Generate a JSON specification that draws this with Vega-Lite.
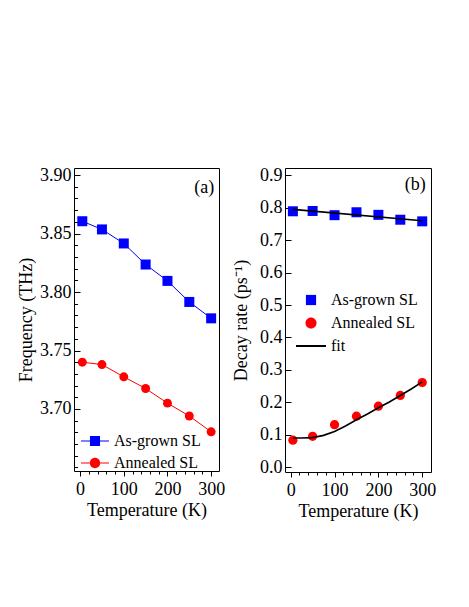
{
  "$schema": "https://vega.github.io/schema/vega-lite/v6.json",
  "background": "white",
  "padding": {"left": 17, "top": 165, "right": 0, "bottom": 0},
  "spacing": 6,
  "resolve": {
    "scale": {"color": "independent", "shape": "independent"},
    "legend": {"color": "independent", "shape": "independent"}
  },
  "datasets": {
    "freq": [
      {"series": "As-grown SL", "T": 5, "f": 3.8605},
      {"series": "As-grown SL", "T": 50, "f": 3.8535},
      {"series": "As-grown SL", "T": 100, "f": 3.8415},
      {"series": "As-grown SL", "T": 150, "f": 3.8235},
      {"series": "As-grown SL", "T": 200, "f": 3.8095},
      {"series": "As-grown SL", "T": 250, "f": 3.7915},
      {"series": "As-grown SL", "T": 300, "f": 3.7775},
      {"series": "Annealed SL", "T": 5, "f": 3.740},
      {"series": "Annealed SL", "T": 50, "f": 3.738},
      {"series": "Annealed SL", "T": 100, "f": 3.7275},
      {"series": "Annealed SL", "T": 150, "f": 3.7175},
      {"series": "Annealed SL", "T": 200, "f": 3.705},
      {"series": "Annealed SL", "T": 250, "f": 3.694},
      {"series": "Annealed SL", "T": 300, "f": 3.6805}
    ],
    "decay": [
      {"series": "As-grown SL", "T": 5, "rate": 0.789},
      {"series": "As-grown SL", "T": 50, "rate": 0.790},
      {"series": "As-grown SL", "T": 100, "rate": 0.777},
      {"series": "As-grown SL", "T": 150, "rate": 0.786},
      {"series": "As-grown SL", "T": 200, "rate": 0.778},
      {"series": "As-grown SL", "T": 250, "rate": 0.763},
      {"series": "As-grown SL", "T": 300, "rate": 0.758},
      {"series": "Annealed SL", "T": 5, "rate": 0.083},
      {"series": "Annealed SL", "T": 50, "rate": 0.095},
      {"series": "Annealed SL", "T": 100, "rate": 0.131},
      {"series": "Annealed SL", "T": 150, "rate": 0.157},
      {"series": "Annealed SL", "T": 200, "rate": 0.188},
      {"series": "Annealed SL", "T": 250, "rate": 0.221},
      {"series": "Annealed SL", "T": 300, "rate": 0.261}
    ],
    "fit": [
      {"group": "As-grown", "T": 5, "rate": 0.795},
      {"group": "As-grown", "T": 300, "rate": 0.760},
      {"group": "Annealed", "T": 5, "rate": 0.090},
      {"group": "Annealed", "T": 25, "rate": 0.090},
      {"group": "Annealed", "T": 50, "rate": 0.091},
      {"group": "Annealed", "T": 75, "rate": 0.098},
      {"group": "Annealed", "T": 100, "rate": 0.110},
      {"group": "Annealed", "T": 125, "rate": 0.127},
      {"group": "Annealed", "T": 150, "rate": 0.146},
      {"group": "Annealed", "T": 175, "rate": 0.164},
      {"group": "Annealed", "T": 200, "rate": 0.183},
      {"group": "Annealed", "T": 225, "rate": 0.201},
      {"group": "Annealed", "T": 250, "rate": 0.221},
      {"group": "Annealed", "T": 275, "rate": 0.241},
      {"group": "Annealed", "T": 300, "rate": 0.263}
    ]
  },
  "hconcat": [
    {
      "width": 145,
      "height": 303,
      "layer": [
        {
          "data": {"name": "freq"},
          "transform": [{"filter": "datum.series === 'As-grown SL'"}],
          "mark": {"type": "line", "strokeWidth": 1, "color": "#0000ff"},
          "encoding": {
            "x": {"field": "T", "type": "quantitative",
              "scale": {"domain": [-14, 318], "nice": false, "zero": false},
              "axis": {"orient": "bottom", "values": [0, 100, 200, 300], "tickSize": 5, "labelPadding": 4, "title": "Temperature (K)", "titlePadding": 3, "labelFlush": false}},
            "y": {"field": "f", "type": "quantitative",
              "scale": {"domain": [3.647, 3.906], "nice": false, "zero": false},
              "axis": {"orient": "left", "values": [3.70, 3.75, 3.80, 3.85, 3.90], "format": ".2f", "tickSize": 6, "offset": -6, "labelPadding": 3, "title": "Frequency (THz)", "titlePadding": 4}}
          }
        },
        {
          "data": {"name": "freq"},
          "transform": [{"filter": "datum.series === 'Annealed SL'"}],
          "mark": {"type": "line", "strokeWidth": 1, "color": "#ff0000"},
          "encoding": {
            "x": {"field": "T", "type": "quantitative", "axis": null},
            "y": {"field": "f", "type": "quantitative", "axis": null}
          }
        },
        {
          "data": {"name": "freq"},
          "transform": [{"filter": "datum.series === 'As-grown SL'"}],
          "mark": {"type": "point", "shape": "square", "size": 100, "filled": true, "opacity": 1, "strokeWidth": 0, "color": "#0000ff"},
          "encoding": {
            "x": {"field": "T", "type": "quantitative",
              "axis": {"orient": "bottom", "values": [0, 20, 40, 60, 80, 100, 120, 140, 160, 180, 200, 220, 240, 260, 280, 300], "tickSize": 3, "labels": false, "title": null}},
            "y": {"field": "f", "type": "quantitative",
              "axis": {"orient": "left", "values": [3.65, 3.66, 3.67, 3.68, 3.69, 3.70, 3.71, 3.72, 3.73, 3.74, 3.75, 3.76, 3.77, 3.78, 3.79, 3.80, 3.81, 3.82, 3.83, 3.84, 3.85, 3.86, 3.87, 3.88, 3.89, 3.90], "tickSize": 3.5, "offset": -3.5, "labels": false, "title": null}}
          }
        },
        {
          "data": {"name": "freq"},
          "transform": [{"filter": "datum.series === 'Annealed SL'"}],
          "mark": {"type": "point", "shape": "circle", "size": 80, "filled": true, "opacity": 1, "strokeWidth": 0, "color": "#ff0000"},
          "encoding": {
            "x": {"field": "T", "type": "quantitative", "axis": null},
            "y": {"field": "f", "type": "quantitative", "axis": null}
          }
        },
        {
          "data": {"name": "freq"},
          "mark": {"type": "point", "filled": true, "opacity": 0, "strokeWidth": 0},
          "encoding": {
            "x": {"field": "T", "type": "quantitative", "axis": null},
            "y": {"field": "f", "type": "quantitative", "axis": null},
            "color": {"field": "series", "type": "nominal",
              "scale": {"domain": ["As-grown SL", "Annealed SL"], "range": ["#0000ff", "#ff0000"]},
              "legend": {"orient": "none", "legendX": 7, "legendY": 259, "title": null, "symbolSize": 784, "symbolStrokeWidth": 0, "symbolOpacity": 1, "labelOffset": 5, "rowPadding": -6}},
            "shape": {"field": "series", "type": "nominal",
              "scale": {"domain": ["As-grown SL", "Annealed SL"], "range": [
                "M-1,-0.04H-0.36V0.04H-1Z M0.36,-0.04H1V0.04H0.36Z M-0.36,-0.36H0.36V0.36H-0.36Z",
                "M-1,-0.04H-0.36V0.04H-1Z M0.36,-0.04H1V0.04H0.36Z M-0.37,0A0.37,0.37 0 1,0 0.37,0A0.37,0.37 0 1,0 -0.37,0Z"]},
              "legend": {"orient": "none", "legendX": 7, "legendY": 259, "title": null, "symbolSize": 784, "symbolStrokeWidth": 0, "symbolOpacity": 1, "labelOffset": 5, "rowPadding": -6}}
          }
        },
        {
          "data": {"values": [{"t": "(a)", "T": 307, "f": 3.889}]},
          "mark": {"type": "text", "align": "right", "baseline": "middle", "fontSize": 18, "font": "Liberation Serif", "color": "black"},
          "encoding": {
            "x": {"field": "T", "type": "quantitative", "axis": null},
            "y": {"field": "f", "type": "quantitative", "axis": null},
            "text": {"field": "t"}
          }
        }
      ],
      "resolve": {"axis": {"x": "independent", "y": "independent"}}
    },
    {
      "width": 146,
      "height": 304,
      "layer": [
        {
          "data": {"name": "decay"},
          "transform": [{"filter": "datum.series === 'As-grown SL'"}],
          "mark": {"type": "point", "shape": "square", "size": 100, "filled": true, "opacity": 1, "strokeWidth": 0, "color": "#0000ff"},
          "encoding": {
            "x": {"field": "T", "type": "quantitative",
              "scale": {"domain": [-13, 320], "nice": false, "zero": false},
              "axis": {"orient": "bottom", "values": [0, 100, 200, 300], "tickSize": 5, "labelPadding": 4, "title": "Temperature (K)", "titlePadding": 3, "labelFlush": false}},
            "y": {"field": "rate", "type": "quantitative",
              "scale": {"domain": [-0.015, 0.9225], "nice": false, "zero": false},
              "axis": {"orient": "left", "values": [0, 0.1, 0.2, 0.3, 0.4, 0.5, 0.6, 0.7, 0.8, 0.9], "format": ".1f", "tickSize": 6, "offset": -6, "labelPadding": 3, "title": "Decay rate (ps⁻¹)", "titlePadding": 9}}
          }
        },
        {
          "data": {"name": "decay"},
          "transform": [{"filter": "datum.series === 'Annealed SL'"}],
          "mark": {"type": "point", "shape": "circle", "size": 85, "filled": true, "opacity": 1, "strokeWidth": 0, "color": "#ff0000"},
          "encoding": {
            "x": {"field": "T", "type": "quantitative", "axis": null},
            "y": {"field": "rate", "type": "quantitative", "axis": null}
          }
        },
        {
          "data": {"name": "fit"},
          "mark": {"type": "line", "strokeWidth": 1.6, "color": "#000000"},
          "encoding": {
            "x": {"field": "T", "type": "quantitative",
              "axis": {"orient": "bottom", "values": [0, 20, 40, 60, 80, 100, 120, 140, 160, 180, 200, 220, 240, 260, 280, 300], "tickSize": 3, "labels": false, "title": null}},
            "y": {"field": "rate", "type": "quantitative", "axis": null},
            "detail": {"field": "group"}
          }
        },
        {
          "data": {"name": "decay"},
          "mark": {"type": "point", "filled": true, "opacity": 0, "strokeWidth": 0},
          "encoding": {
            "x": {"field": "T", "type": "quantitative", "axis": null},
            "y": {"field": "rate", "type": "quantitative", "axis": null},
            "color": {"field": "series", "type": "nominal",
              "scale": {"domain": ["As-grown SL", "Annealed SL", "fit"], "range": ["#0000ff", "#ff0000", "#000000"]},
              "legend": {"orient": "none", "legendX": 11, "legendY": 117, "title": null, "symbolSize": 900, "symbolStrokeWidth": 0, "symbolOpacity": 1, "labelOffset": 5, "rowPadding": -5}},
            "shape": {"field": "series", "type": "nominal",
              "scale": {"domain": ["As-grown SL", "Annealed SL", "fit"], "range": [
                "M-0.34,-0.34H0.34V0.34H-0.34Z",
                "M-0.37,0A0.37,0.37 0 1,0 0.37,0A0.37,0.37 0 1,0 -0.37,0Z",
                "M-1,-0.065H1V0.065H-1Z"]},
              "legend": {"orient": "none", "legendX": 11, "legendY": 117, "title": null, "symbolSize": 900, "symbolStrokeWidth": 0, "symbolOpacity": 1, "labelOffset": 5, "rowPadding": -5}}
          }
        },
        {
          "data": {"values": [{"t": "(b)", "T": 308, "rate": 0.870}]},
          "mark": {"type": "text", "align": "right", "baseline": "middle", "fontSize": 18, "font": "Liberation Serif", "color": "black"},
          "encoding": {
            "x": {"field": "T", "type": "quantitative", "axis": null},
            "y": {"field": "rate", "type": "quantitative", "axis": null},
            "text": {"field": "t"}
          }
        }
      ],
      "resolve": {"axis": {"x": "independent", "y": "independent"}}
    }
  ],
  "config": {
    "view": {"stroke": "black", "strokeWidth": 1},
    "font": "Liberation Serif",
    "axis": {
      "labelFont": "Liberation Serif", "labelFontSize": 18, "labelColor": "black",
      "titleFont": "Liberation Serif", "titleFontSize": 18, "titleFontWeight": "normal", "titleColor": "black",
      "tickColor": "black", "tickWidth": 1, "domain": false, "grid": false
    },
    "legend": {
      "labelFont": "Liberation Serif", "labelFontSize": 16, "labelColor": "black",
      "padding": 0, "rowPadding": 0
    }
  }
}
